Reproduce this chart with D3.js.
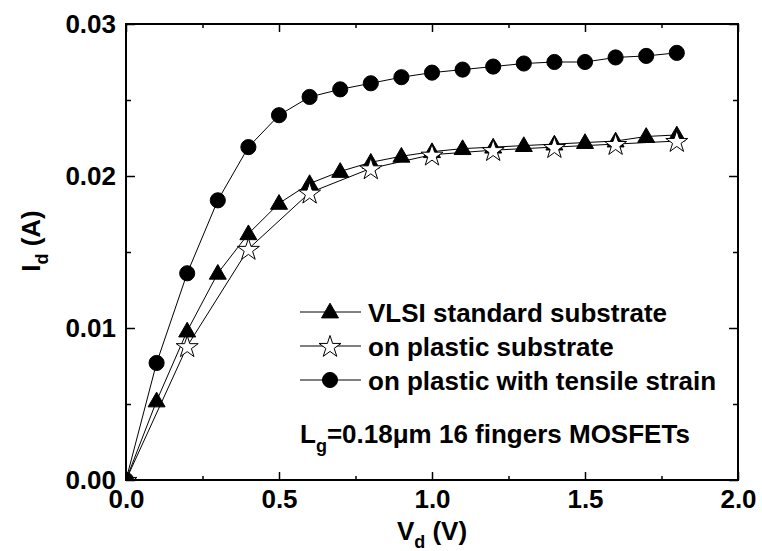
<!DOCTYPE html>
<html>
<head>
<meta charset="utf-8">
<script src="https://cdn.jsdelivr.net/npm/d3@7"></script>
<style>
    body { margin: 0; background: #fff; }
    text { font-family: "Liberation Sans", Arial, sans-serif; font-weight: bold; fill: #000; }
</style>
</head>
<body>
<div id="chart_parent"></div>
<script>
// drain voltage (V)
const vd = [0, 0.1, 0.2, 0.3, 0.4, 0.5, 0.6, 0.7, 0.8, 0.9, 1.0, 1.1, 1.2, 1.3, 1.4, 1.5, 1.6, 1.7, 1.8];
// drain current (A)
const vlsiId = [0, 0.0052, 0.0098, 0.0136, 0.0162, 0.0182, 0.0195, 0.0203, 0.0209, 0.0213, 0.0216,
    0.0218, 0.0219, 0.0220, 0.0221, 0.0222, 0.0223, 0.0226, 0.0227];
const plasticVd = [0, 0.2, 0.4, 0.6, 0.8, 1.0, 1.2, 1.4, 1.6, 1.8];
const plasticId = [0, 0.0088, 0.0152, 0.0189, 0.0205, 0.0214, 0.0217, 0.0219, 0.0221, 0.0223];
const strainId = [0, 0.0077, 0.0136, 0.0184, 0.0219, 0.0240, 0.0252, 0.0257, 0.0261, 0.0265, 0.0268,
    0.0270, 0.0272, 0.0274, 0.0275, 0.0275, 0.0278, 0.0279, 0.0281];

const xTicks = [0, 0.5, 1.0, 1.5, 2.0];
const xMinorTicks = [0.25, 0.75, 1.25, 1.75];
const yTicks = [0, 0.01, 0.02, 0.03];
const yMinorTicks = [0.005, 0.015, 0.025];

const legendLabels = ['VLSI standard substrate', 'on plastic substrate', 'on plastic with tensile strain'];

const config = {
    outerWidth: 762,
    outerHeight: 551,
    margins: { top: 24, right: 24, bottom: 71, left: 126 },
    fontSize: 26,
    subSize: 18,
};

const width = config.outerWidth - config.margins.left - config.margins.right;
const height = config.outerHeight - config.margins.top - config.margins.bottom;

const svg = d3.select('#chart_parent').append('svg')
    .attr('width', config.outerWidth)
    .attr('height', config.outerHeight);

const chartEl = svg.append('g')
    .attr('transform', `translate(${config.margins.left},${config.margins.top})`);

svg.append('defs').append('clipPath')
    .attr('id', 'plot-clip')
    .append('rect')
    .attr('width', width)
    .attr('height', height);

const xScale = d3.scaleLinear().domain([0, 2]).range([0, width]);
const yScale = d3.scaleLinear().domain([0, 0.03]).range([height, 0]);

function styleAxis(g) {
    g.select('.domain').remove();
    g.selectAll('line').attr('stroke', '#000').attr('stroke-width', 1.5);
    g.selectAll('text').style('font-size', `${config.fontSize}px`);
}

// major + minor ticks, all pointing inwards, mirrored on top and right
chartEl.append('g')
    .attr('transform', `translate(0,${height})`)
    .call(d3.axisBottom(xScale).tickValues(xTicks).tickFormat(d3.format('.1f'))
        .tickSizeInner(-8).tickSizeOuter(0).tickPadding(10))
    .call(styleAxis);
chartEl.append('g')
    .attr('transform', `translate(0,${height})`)
    .call(d3.axisBottom(xScale).tickValues(xMinorTicks).tickFormat('').tickSizeInner(-4).tickSizeOuter(0))
    .call(styleAxis);
chartEl.append('g')
    .call(d3.axisTop(xScale).tickValues(xTicks).tickFormat('').tickSizeInner(-8).tickSizeOuter(0))
    .call(styleAxis);
chartEl.append('g')
    .call(d3.axisTop(xScale).tickValues(xMinorTicks).tickFormat('').tickSizeInner(-4).tickSizeOuter(0))
    .call(styleAxis);

chartEl.append('g')
    .call(d3.axisLeft(yScale).tickValues(yTicks).tickFormat(d3.format('.2f'))
        .tickSizeInner(-9).tickSizeOuter(0).tickPadding(10))
    .call(styleAxis);
chartEl.append('g')
    .call(d3.axisLeft(yScale).tickValues(yMinorTicks).tickFormat('').tickSizeInner(-5).tickSizeOuter(0))
    .call(styleAxis);
chartEl.append('g')
    .attr('transform', `translate(${width},0)`)
    .call(d3.axisRight(yScale).tickValues(yTicks).tickFormat('').tickSizeInner(-9).tickSizeOuter(0))
    .call(styleAxis);
chartEl.append('g')
    .attr('transform', `translate(${width},0)`)
    .call(d3.axisRight(yScale).tickValues(yMinorTicks).tickFormat('').tickSizeInner(-5).tickSizeOuter(0))
    .call(styleAxis);

const symTriangle = d3.symbol().type(d3.symbolTriangle).size(125);
const symStar = d3.symbol().type(d3.symbolStar).size(150);
const symCircle = d3.symbol().type(d3.symbolCircle).size(180);

const series = [
    { x: vd, y: vlsiId, sym: symTriangle, fill: '#000', dy: 1 },
    { x: plasticVd, y: plasticId, sym: symStar, fill: '#fff', dy: 1 },
    { x: vd, y: strainId, sym: symCircle, fill: '#000', dy: 0 },
];

const line = d3.line().x(d => xScale(d[0])).y(d => yScale(d[1]));

const dataLayer = chartEl.append('g').attr('clip-path', 'url(#plot-clip)');

series.forEach((s) => {
    const pts = s.x.map((x, i) => [x, s.y[i]]);
    dataLayer.append('path')
        .datum(pts)
        .attr('d', line)
        .attr('fill', 'none')
        .attr('stroke', '#000')
        .attr('stroke-width', 1);
    dataLayer.selectAll(null)
        .data(pts)
        .enter()
        .append('path')
        .attr('d', s.sym)
        .attr('transform', d => `translate(${xScale(d[0])},${yScale(d[1]) + s.dy})`)
        .attr('fill', s.fill)
        .attr('stroke', '#000')
        .attr('stroke-width', 1);
});

chartEl.append('rect')
    .attr('width', width)
    .attr('height', height)
    .attr('fill', 'none')
    .attr('stroke', '#000')
    .attr('stroke-width', 2);

// legend
const legend = svg.append('g').attr('transform', 'translate(300,312)');
series.forEach((s, i) => {
    const row = legend.append('g').attr('transform', `translate(0,${i * 34})`);
    row.append('line')
        .attr('x1', 0).attr('x2', 61)
        .attr('stroke', '#000').attr('stroke-width', 1);
    row.append('path')
        .attr('d', s.sym)
        .attr('transform', `translate(30,${s.dy})`)
        .attr('fill', s.fill)
        .attr('stroke', '#000');
    row.append('text')
        .attr('x', 68)
        .attr('y', 10)
        .style('font-size', `${config.fontSize}px`)
        .text(legendLabels[i]);
});

// annotation
const note = svg.append('text')
    .attr('x', 300)
    .attr('y', 443)
    .style('font-size', `${config.fontSize}px`);
note.append('tspan').text('L');
note.append('tspan').attr('dy', 9).style('font-size', `${config.subSize}px`).text('g');
note.append('tspan').attr('dy', -9).text('=0.18μm 16 fingers MOSFETs');

// axis titles
const xTitle = svg.append('text')
    .attr('x', config.margins.left + width / 2)
    .attr('y', 540)
    .attr('text-anchor', 'middle')
    .style('font-size', `${config.fontSize}px`);
xTitle.append('tspan').text('V');
xTitle.append('tspan').attr('dy', 8).style('font-size', `${config.subSize}px`).text('d');
xTitle.append('tspan').attr('dy', -8).text(' (V)');

const yTitle = svg.append('text')
    .attr('transform', 'translate(40,241) rotate(-90)')
    .attr('text-anchor', 'middle')
    .style('font-size', `${config.fontSize}px`);
yTitle.append('tspan').text('I');
yTitle.append('tspan').attr('dy', 8).style('font-size', `${config.subSize}px`).text('d');
yTitle.append('tspan').attr('dy', -8).text(' (A)');
</script>
</body>
</html>
